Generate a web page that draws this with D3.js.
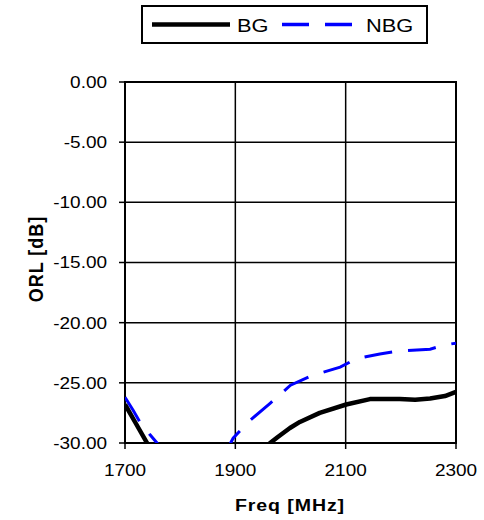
<!DOCTYPE html>
<html>
<head>
<meta charset="utf-8">
<script src="https://cdn.jsdelivr.net/npm/d3@7"></script>
<style>
  html, body { margin: 0; padding: 0; background: #fff; }
  svg { display: block; font-family: Arial, "Liberation Sans", sans-serif; }
</style>
</head>
<body>
<svg id="chart" width="484" height="520"></svg>
<script>
// ---- data ----
const xTicks = [1700, 1900, 2100, 2300];
const yTicks = [0, -5, -10, -15, -20, -25, -30];
const yTickLabels = ["0.00", "-5.00", "-10.00", "-15.00", "-20.00", "-25.00", "-30.00"];

const bgFreq = [1700, 1720, 1740, 1760, 1940, 1963, 1977, 1999, 2017, 2053, 2101, 2144, 2198, 2226, 2253, 2280, 2300];
const bgVal  = [-26.8, -28.4, -30.0, -31.6, -31.6, -30.0, -29.5, -28.75, -28.25, -27.5, -26.8, -26.35, -26.35, -26.4, -26.3, -26.1, -25.75];

const nbgFreq = [1700, 1715, 1730, 1745, 1758, 1775, 1880, 1896, 1927, 1963, 2000, 2039, 2090, 2119, 2162, 2198, 2253, 2280, 2300];
const nbgVal  = [-26.2, -27.3, -28.5, -29.3, -30.0, -31.2, -31.0, -29.6, -28.1, -26.7, -25.2, -24.4, -23.7, -23.0, -22.6, -22.35, -22.2, -21.85, -21.7];

const seriesNames = ["BG", "NBG"];

// ---- layout ----
const L = 125, R = 456, T = 82, B = 443;
const svg = d3.select("#chart");
const x = d3.scaleLinear().domain([1700, 2300]).range([L, R]);
const y = d3.scaleLinear().domain([-30, 0]).range([B, T]);
const SX = 1.15;

// grid
const g = svg.append("g");
g.selectAll("line.hg").data(yTicks).enter().append("line")
  .attr("x1", L).attr("x2", R).attr("y1", d => y(d)).attr("y2", d => y(d))
  .attr("stroke", "#000").attr("stroke-width", 1.5);
g.selectAll("line.vg").data(xTicks).enter().append("line")
  .attr("y1", T).attr("y2", B).attr("x1", d => x(d)).attr("x2", d => x(d))
  .attr("stroke", "#000").attr("stroke-width", 1.5);

// ticks
g.selectAll("line.yt").data(yTicks).enter().append("line")
  .attr("x1", L - 6).attr("x2", L).attr("y1", d => y(d)).attr("y2", d => y(d))
  .attr("stroke", "#000").attr("stroke-width", 1.5);
g.selectAll("line.xt").data(xTicks).enter().append("line")
  .attr("y1", B).attr("y2", B + 6).attr("x1", d => x(d)).attr("x2", d => x(d))
  .attr("stroke", "#000").attr("stroke-width", 1.5);

// border
g.append("rect").attr("x", L).attr("y", T).attr("width", R - L).attr("height", B - T)
  .attr("fill", "none").attr("stroke", "#000").attr("stroke-width", 2);

// tick labels
g.selectAll("text.yl").data(yTicks).enter().append("text")
  .attr("transform", d => `translate(107,${y(d)}) scale(${SX},1)`)
  .attr("text-anchor", "end").attr("dy", "0.36em")
  .attr("font-size", 16.5).text((d, i) => yTickLabels[i]);
g.selectAll("text.xl").data(xTicks).enter().append("text")
  .attr("transform", d => `translate(${x(d)},470) scale(${SX},1)`)
  .attr("text-anchor", "middle").attr("dy", "0.36em")
  .attr("font-size", 16.5).text(d => d);

// axis titles
svg.append("text")
  .attr("transform", `translate(290,505) scale(${SX},1)`)
  .attr("text-anchor", "middle").attr("dy", "0.36em")
  .attr("font-size", 17).attr("font-weight", "bold").attr("letter-spacing", 0.8)
  .text("Freq [MHz]");
svg.append("text")
  .attr("transform", `translate(36,259) rotate(-90) scale(1,${SX})`)
  .attr("text-anchor", "middle").attr("dy", "0.36em")
  .attr("font-size", 18).attr("font-weight", "bold").attr("letter-spacing", 1)
  .text("ORL [dB]");

// clip
svg.append("clipPath").attr("id", "clip").append("rect")
  .attr("x", L).attr("y", T).attr("width", R - L).attr("height", B - T);

const line = d3.line().x(d => x(d[0])).y(d => y(d[1]));
const bg = bgFreq.map((f, i) => [f, bgVal[i]]);
const nbg = nbgFreq.map((f, i) => [f, nbgVal[i]]);

const plot = svg.append("g").attr("clip-path", "url(#clip)");
plot.append("path").datum(nbg).attr("d", line)
  .attr("fill", "none").attr("stroke", "#0000ff").attr("stroke-width", 3)
  .attr("stroke-dasharray", "28,16");
plot.append("path").datum(bg).attr("d", line)
  .attr("fill", "none").attr("stroke", "#000").attr("stroke-width", 4.5)
  .attr("stroke-linejoin", "round");

// legend
const lg = svg.append("g");
lg.append("rect").attr("x", 142).attr("y", 6).attr("width", 285).attr("height", 37)
  .attr("fill", "#fff").attr("stroke", "#000").attr("stroke-width", 2);
lg.append("line").attr("x1", 152).attr("x2", 230).attr("y1", 24.5).attr("y2", 24.5)
  .attr("stroke", "#000").attr("stroke-width", 4.5);
lg.append("text").attr("transform", `translate(237,25) scale(${SX},1)`).attr("dy", "0.36em")
  .attr("font-size", 19).text(seriesNames[0]);
lg.append("line").attr("x1", 282).attr("x2", 352).attr("y1", 24.5).attr("y2", 24.5)
  .attr("stroke", "#0000ff").attr("stroke-width", 3.5).attr("stroke-dasharray", "27,16");
lg.append("text").attr("transform", `translate(366,25) scale(${SX},1)`).attr("dy", "0.36em")
  .attr("font-size", 19).text(seriesNames[1]);
</script>
</body>
</html>
